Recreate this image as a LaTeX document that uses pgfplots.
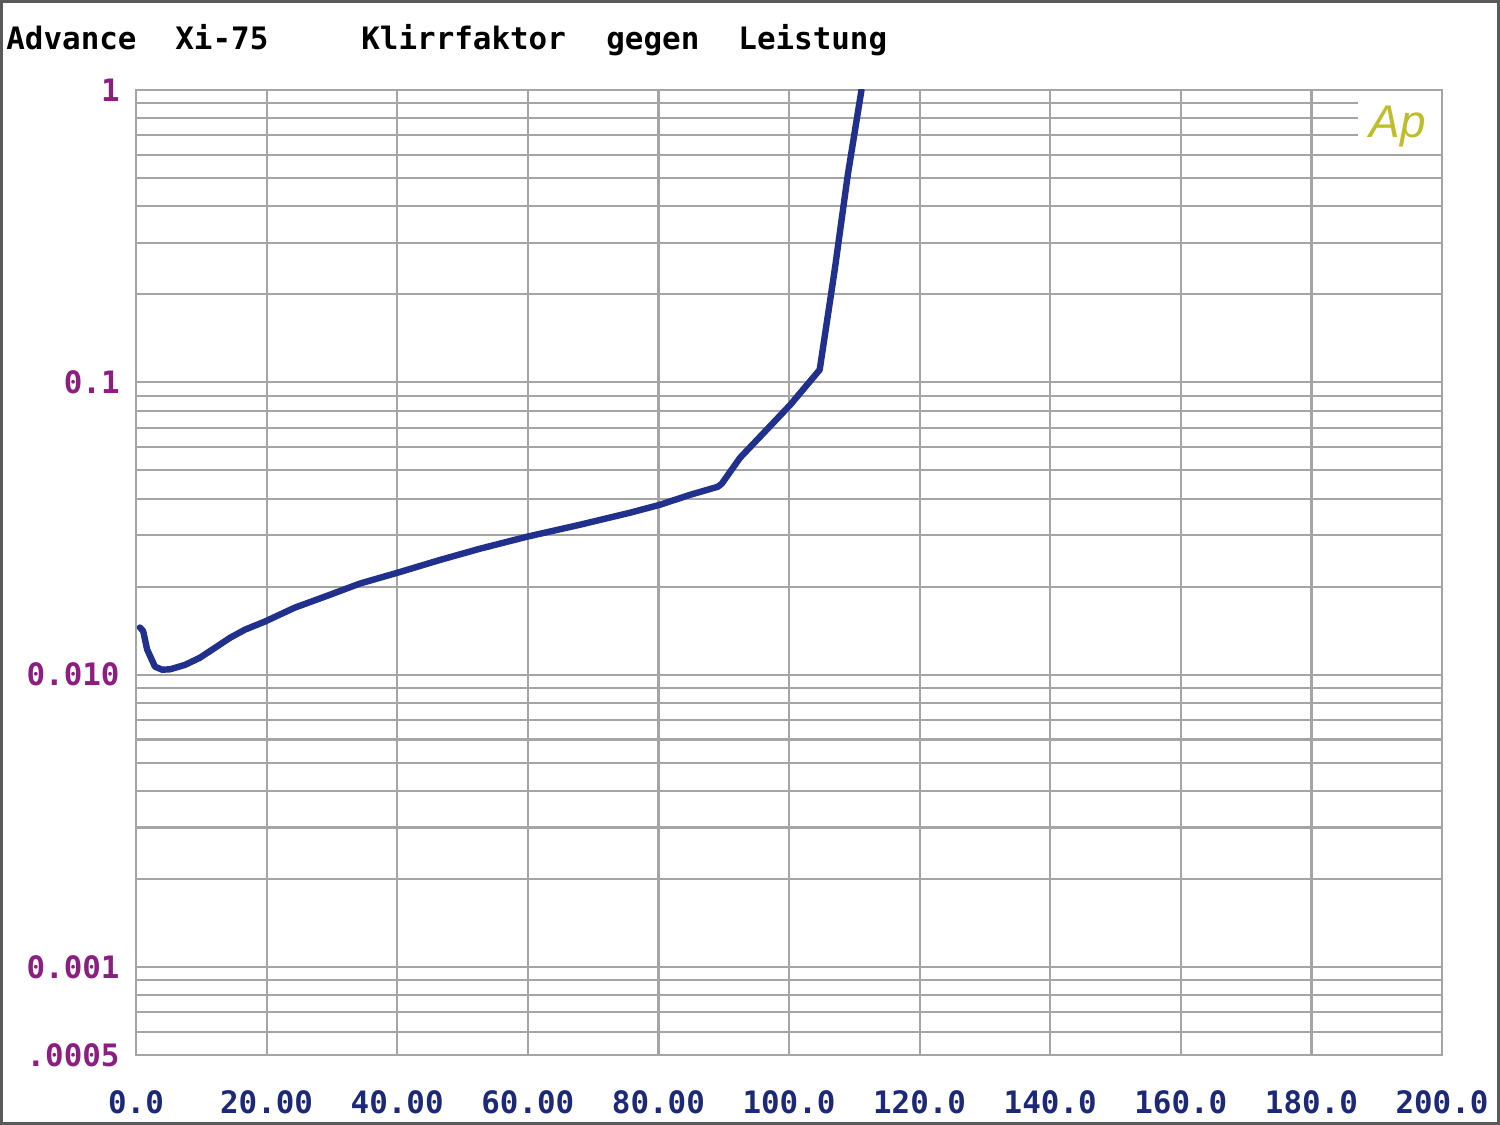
\documentclass[border=0pt]{standalone}
\usepackage{pgfplots}
\pgfplotsset{compat=1.18}
\usepackage{fontspec}
\setmainfont{DejaVu Sans Mono}
\newfontfamily\apfont{Liberation Sans}
\definecolor{gridgray}{RGB}{165,165,165}
\definecolor{curveblue}{RGB}{32,48,140}
\definecolor{ylab}{RGB}{140,30,130}
\definecolor{xlab}{RGB}{28,40,120}
\definecolor{apcol}{RGB}{190,190,40}
\definecolor{bordercol}{RGB}{90,90,90}
\begin{document}
\begin{tikzpicture}
\useasboundingbox (0,0) rectangle (750bp,562.5bp);
\draw[bordercol, line width=1.5bp] (0.75bp,0.75bp) rectangle (749.25bp,561.75bp);
\begin{axis}[
  at={(68bp,35bp)}, anchor=south west,
  scale only axis, width=653bp, height=482.5bp,
  xmin=0, xmax=200, ymin=0.0005, ymax=1, ymode=log,
  xtick={0,20,...,200},
  xticklabels={0.0,20.00,40.00,60.00,80.00,100.0,120.0,140.0,160.0,180.0,200.0},
  ytick={0.0005,0.001,0.01,0.1,1},
  yticklabels={.0005,0.001,0.010,0.1,1},
  minor ytick={0.0006,0.0007,0.0008,0.0009,0.002,0.003,0.004,0.005,0.006,0.007,0.008,0.009,0.02,0.03,0.04,0.05,0.06,0.07,0.08,0.09,0.2,0.3,0.4,0.5,0.6,0.7,0.8,0.9},
  grid=both,
  major grid style={gridgray, line width=1.1bp},
  minor grid style={gridgray, line width=1.1bp},
  axis line style={gridgray, line width=1.1bp},
  major tick length=0pt, minor tick length=0pt,
  tick style={draw=none},
  /pgf/number format/assume math mode=true,
  xticklabel style={anchor=center, inner sep=0pt, yshift=-23.5bp, font=\fontsize{15.5}{18}\selectfont\bfseries, text=xlab},
  yticklabel style={anchor=east, inner sep=0pt, xshift=-8bp, font=\fontsize{15.5}{18}\selectfont\bfseries, text=ylab},
  clip=true,
]
\addplot[curveblue, line width=3.2bp, line join=round, line cap=round] coordinates {
(0.6,0.0145) (1.1,0.0141) (1.7,0.0122) (2.9,0.01065) (4.0,0.0104) (5.2,0.01043)
(7.5,0.0108) (9.8,0.01143) (12.1,0.01236) (14.4,0.01337) (16.7,0.01426)
(19.75,0.0152) (24.3,0.01695) (28.9,0.01848) (34.3,0.0205) (40.1,0.02234)
(46.6,0.0247) (52.7,0.02698) (59.9,0.02965) (68.0,0.03258) (75.65,0.03581)
(80.2,0.0381) (84.8,0.0412) (89.1,0.04393) (89.7,0.0450) (92.5,0.0552)
(96.3,0.0678) (100.2,0.0838) (104.7,0.1104) (107.0,0.2425) (109.0,0.512) (111.1,1.0)
};
\end{axis}
\fill[white] (679bp,490bp) rectangle (720.4bp,513.5bp);
\node[apcol, font=\apfont\itshape\fontsize{23}{26}\selectfont, inner sep=0pt] at (699bp,499bp) {Ap};
\begin{scope}[every node/.style={inner sep=0pt, anchor=base west, font=\fontsize{15.5}{18}\selectfont\bfseries}]
\node at (3bp,537.5bp) {Advance};
\node at (87.5bp,537.5bp) {Xi-75};
\node at (180.5bp,537.5bp) {Klirrfaktor};
\node at (303bp,537.5bp) {gegen};
\node at (369bp,537.5bp) {Leistung};
\end{scope}
\end{tikzpicture}
\end{document}
